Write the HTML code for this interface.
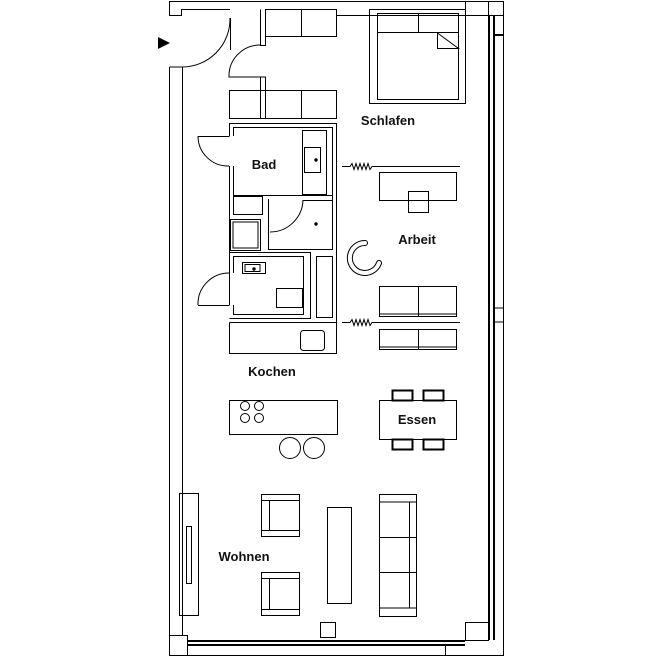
<!DOCTYPE html>
<html><head><style>body{margin:0;background:#fff}svg{display:block}text{font-family:"Liberation Sans",sans-serif;font-weight:bold;font-size:13px}</style></head><body>
<svg width="660" height="660" viewBox="0 0 660 660" fill="none" stroke="#000" stroke-width="1">
<rect x="0" y="0" width="660" height="660" fill="#fff" stroke="none"/>
<path d="M169.5 67V655.5H503.5V1.5H169.5V15.5H181.5V9.5H230"/>
<path d="M169.5 67H182.5V635"/>
<path d="M336 15.5H503.5"/>
<line x1="488.5" y1="1.5" x2="488.5" y2="15.5"/>
<line x1="465.5" y1="15.5" x2="465.5" y2="1.5"/>
<line x1="489" y1="15" x2="489" y2="640" stroke-width="2"/>
<line x1="494" y1="15" x2="494" y2="640" stroke-width="2"/>
<line x1="494" y1="35" x2="503" y2="35" stroke-width="2"/>
<line x1="494" y1="308" x2="503" y2="308"/>
<line x1="494" y1="322" x2="503" y2="322"/>
<line x1="188" y1="641" x2="465" y2="641" stroke-width="2"/>
<line x1="188" y1="645" x2="465" y2="645" stroke-width="2"/>
<rect x="169.5" y="635.5" width="18" height="20"/>
<rect x="465.5" y="622.5" width="23" height="18"/>
<line x1="445.5" y1="645" x2="445.5" y2="655"/>
<polygon points="158,37 158,49 170,43" fill="#000" stroke="none"/>
<path d="M230.5 18V50M230 18A48 48 0 0 1 182 67"/>
<path d="M260.5 9.5V45.5H265.5V9.5"/>
<path d="M260 45A31 31 0 0 0 229 77H260.5V90M265.5 90V77H260.5"/>
<rect x="265.5" y="9.5" width="71" height="27"/><line x1="301.5" y1="9.5" x2="301.5" y2="36.5"/>
<rect x="229.5" y="90.5" width="107" height="28"/><line x1="260.5" y1="90.5" x2="260.5" y2="118.5"/><line x1="265.5" y1="90.5" x2="265.5" y2="118.5"/><line x1="301.5" y1="90.5" x2="301.5" y2="118.5"/>
<rect x="369.5" y="9.5" width="96" height="94"/>
<rect x="377.5" y="13.5" width="81" height="86"/>
<line x1="377.5" y1="32.5" x2="458.5" y2="32.5"/><line x1="418.5" y1="13.5" x2="418.5" y2="32.5"/>
<path d="M437.5 33V48.5H458.5L437.5 33"/>
<text x="388" y="125" text-anchor="middle" stroke="none" fill="#111">Schlafen</text>
<path d="M229.5 136V123.5H336.5V353.5H229.5V322.5M229.5 166V305M229.5 273V252"/>
<path d="M233.5 136V127.5H332.5V195.5H233.5V166"/>
<path d="M198 136.5H229.5M198 136A30 30 0 0 0 229 166"/>
<rect x="302.5" y="130.5" width="24" height="64"/>
<rect x="304.5" y="147.5" width="16" height="25"/><circle cx="316" cy="160" r="1.2" fill="#000"/>
<text x="264" y="169" text-anchor="middle" stroke="none" fill="#111">Bad</text>
<rect x="233.5" y="196.5" width="29" height="18"/>
<path d="M268.5 199V249.5H332.5V200.5H303.5"/><line x1="332.5" y1="195.5" x2="332.5" y2="249.5"/>
<path d="M303 200A33 33 0 0 1 270 232"/><circle cx="316" cy="224" r="1.2" fill="#000"/>
<rect x="230.5" y="219.5" width="30" height="31"/><rect x="233" y="222" width="25" height="26"/>
<path d="M229.5 252.5H310.5V318.5H229.5"/>
<path d="M233.5 273V256.5H303.5V314.5H233.5V305"/>
<path d="M198 305.5H229.5M229 273A31 31 0 0 0 198 305"/>
<rect x="242.5" y="262.5" width="23" height="11"/><rect x="245" y="264.5" width="15" height="7"/><circle cx="254" cy="269" r="1.2" fill="#000"/>
<rect x="276.5" y="288.5" width="26" height="19"/>
<rect x="316.5" y="256.5" width="16" height="61"/>
<line x1="229.5" y1="322.5" x2="336.5" y2="322.5"/>
<rect x="300.5" y="330.5" width="24" height="20" rx="3"/>
<path d="M342 166.5H350l2-3 2 6 2-6 2 6 2-6 2 6 2-6 2 6 2-6 2 6 2-3H460"/>
<path d="M342 322.5H350l2-3 2 6 2-6 2 6 2-6 2 6 2-6 2 6 2-6 2 6 2-3H460"/>
<rect x="379.5" y="172.5" width="77" height="28"/>
<rect x="408.5" y="191.5" width="20" height="21"/>
<text x="417" y="244" text-anchor="middle" stroke="none" fill="#111">Arbeit</text>
<path d="M365 243A15 15 0 1 0 379 263" stroke-width="6" stroke-linecap="round"/>
<path d="M365 243A15 15 0 1 0 379 263" stroke-width="4" stroke="#fff" stroke-linecap="round"/>
<rect x="379.5" y="286.5" width="77" height="30"/><line x1="418.5" y1="286.5" x2="418.5" y2="316.5"/><line x1="379.5" y1="314" x2="456.5" y2="314"/>
<rect x="379.5" y="329.5" width="77" height="20"/><line x1="418.5" y1="329.5" x2="418.5" y2="349.5"/><line x1="379.5" y1="347" x2="456.5" y2="347"/>
<text x="272" y="376" text-anchor="middle" stroke="none" fill="#111">Kochen</text>
<rect x="229.5" y="400.5" width="108" height="34"/>
<circle cx="245" cy="406" r="4.5"/><circle cx="259" cy="406" r="4.5"/><circle cx="245" cy="418" r="4.5"/><circle cx="259" cy="418" r="4.5"/>
<circle cx="290" cy="448" r="10.5"/><circle cx="314" cy="448" r="10.5"/>
<rect x="379.5" y="400.5" width="77" height="39"/>
<rect x="392.5" y="390.5" width="20" height="10" stroke-width="2"/><rect x="423.5" y="390.5" width="20" height="10" stroke-width="2"/>
<rect x="392.5" y="439.5" width="20" height="10" stroke-width="2"/><rect x="423.5" y="439.5" width="20" height="10" stroke-width="2"/>
<text x="417" y="424" text-anchor="middle" stroke="none" fill="#111">Essen</text>
<rect x="179.5" y="493.5" width="19" height="122"/><rect x="186.5" y="526.5" width="5" height="57"/>
<rect x="261.5" y="494.5" width="38" height="42"/><path d="M269.5 500.5V530.5M261.5 500.5H299.5M261.5 530.5H299.5"/>
<rect x="261.5" y="572.5" width="38" height="43"/><path d="M269.5 578.5V609.5M261.5 578.5H299.5M261.5 609.5H299.5"/>
<rect x="327.5" y="507.5" width="24" height="96"/>
<rect x="379.5" y="494.5" width="37" height="122"/><path d="M409.5 502V608M379.5 502H416.5M379.5 608H416.5M379.5 537.5H416.5M379.5 572.5H416.5"/>
<text x="244" y="561" text-anchor="middle" stroke="none" fill="#111">Wohnen</text>
<rect x="320.5" y="622.5" width="15" height="15"/>
</svg>
</body></html>
